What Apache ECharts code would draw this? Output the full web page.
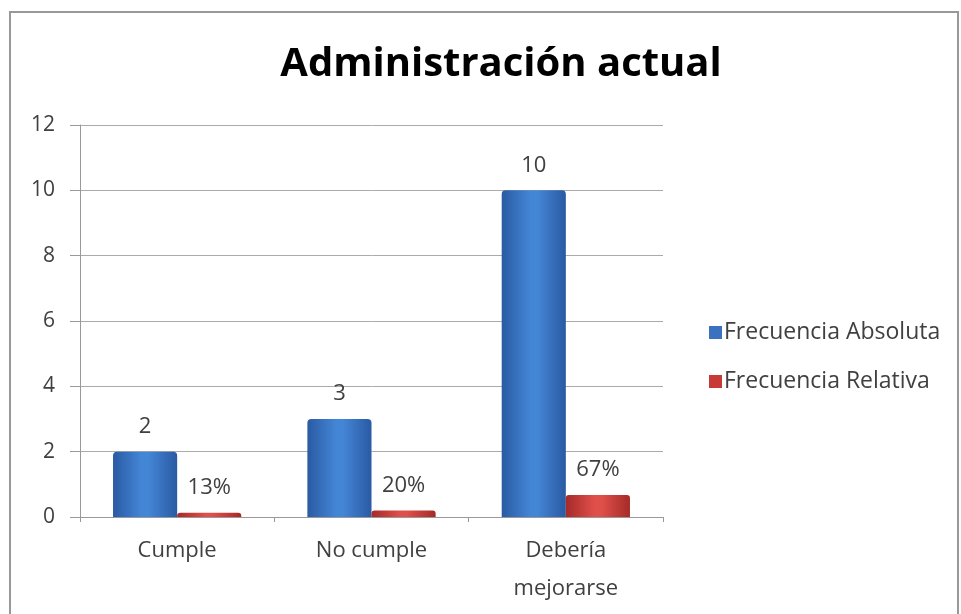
<!DOCTYPE html>
<html>
<head>
<meta charset="utf-8">
<script src="https://cdn.jsdelivr.net/npm/echarts@6/dist/echarts.min.js"></script>
<style>
  html, body { margin: 0; padding: 0; background: #fff; }
  #chart { width: 961px; height: 614px; }
</style>
</head>
<body>
<div id="chart"></div>
<script>
// Categories and values
var categories = ['Cumple', 'No cumple', 'Debería\nmejorarse'];
var absoluta = [2, 3, 10];
var relativa = [0.13, 0.20, 0.67];
var yTicks = [0, 2, 4, 6, 8, 10, 12];

var FONT = '"Open Sans", "Liberation Sans", sans-serif';

function barGradient(edge, mid) {
  return new echarts.graphic.LinearGradient(0, 0, 1, 0, [
    { offset: 0, color: edge },
    { offset: 0.45, color: mid },
    { offset: 0.55, color: mid },
    { offset: 1, color: edge }
  ]);
}

var chart = echarts.init(document.getElementById('chart'));
chart.setOption({
  backgroundColor: '#fff',
  animation: false,
  title: {
    text: 'Administración actual',
    left: 496,
    textAlign: 'center',
    top: 40,
    textStyle: { fontFamily: FONT, fontSize: 40, fontWeight: 'bold', color: '#000' }
  },
  graphic: [{
    type: 'rect',
    shape: { x: 10, y: 12, width: 948, height: 610 },
    style: { fill: 'none', stroke: '#999', lineWidth: 2 },
    silent: true
  }],
  legend: {
    orient: 'vertical',
    left: 704,
    top: 316,
    itemWidth: 13,
    itemHeight: 13,
    itemGap: 26,
    icon: 'rect',
    textStyle: { fontFamily: FONT, fontSize: 23, color: '#404040', padding: [0, 0, 0, -3] },
    data: [
      { name: 'Frecuencia Absoluta', itemStyle: { color: '#3a72c0' } },
      { name: 'Frecuencia Relativa', itemStyle: { color: '#c83a36' } }
    ]
  },
  grid: { left: 80, right: 298, top: 125, bottom: 97 },
  xAxis: {
    type: 'category',
    data: categories,
    axisLine: { lineStyle: { color: '#999', width: 1 } },
    axisTick: { show: true, length: 5, lineStyle: { color: '#999' } },
    axisLabel: { fontFamily: FONT, fontSize: 22, color: '#404040', margin: 15, lineHeight: 38 }
  },
  yAxis: {
    type: 'value',
    min: yTicks[0],
    max: yTicks[yTicks.length - 1],
    interval: 2,
    axisLine: { show: true, lineStyle: { color: '#999' } },
    axisTick: { show: true, length: 10, lineStyle: { color: '#999' } },
    axisLabel: { fontFamily: FONT, fontSize: 21, color: '#404040', margin: 25 },
    splitLine: { lineStyle: { color: '#ababab', width: 1 } }
  },
  series: [
    {
      name: 'Frecuencia Absoluta',
      type: 'bar',
      data: absoluta,
      barGap: '0%',
      barCategoryGap: '34%',
      itemStyle: { color: barGradient('#2a5aa3', '#4486d6'), borderRadius: [4, 4, 0, 0] },
      label: {
        show: true, position: 'top', distance: 14,
        fontFamily: FONT, fontSize: 22, color: '#404040'
      }
    },
    {
      name: 'Frecuencia Relativa',
      type: 'bar',
      data: relativa,
      itemStyle: { color: barGradient('#a52a28', '#e0504a'), borderRadius: [3, 3, 0, 0] },
      label: {
        show: true, position: 'top', distance: 14,
        fontFamily: FONT, fontSize: 22, color: '#404040',
        formatter: function (p) { return Math.round(p.value * 100) + '%'; }
      }
    }
  ]
});
</script>
</body>
</html>
